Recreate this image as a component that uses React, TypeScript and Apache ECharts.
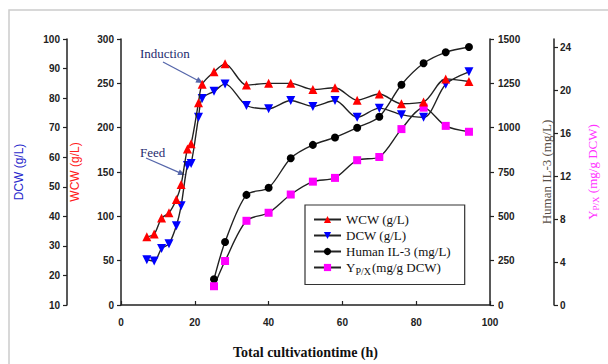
import React, { useEffect, useRef } from "react";
import * as echarts from "echarts";

// sampling times (h) for biomass
const timeBio = [7, 9, 11, 13, 15, 16.3, 18, 19, 21, 22, 25.2, 28.2, 34, 40, 46, 52, 58, 64, 70, 76, 82, 88, 94.3];
// WCW (g/L)
const wcw = [77, 80, 98, 104, 119, 136, 176, 182, 228, 249, 263, 272, 248, 250, 250, 243, 245, 231, 238, 227, 229, 255, 252];
// DCW (g/L)
const dcw = [25.3, 24.9, 29.1, 30.7, 36.8, 43.6, 57.2, 57.9, 73.5, 79.9, 82.3, 84.8, 77.5, 76.4, 79.2, 77.2, 79.2, 73.5, 76.6, 74.4, 73.5, 84.7, 88.9];
// sampling times after induction
const timeInd = [25.2, 28.2, 34, 40, 46, 52, 58, 64, 70, 76, 82, 88, 94.3];
// Human IL-3 (mg/L)
const il3 = [145, 355, 621, 661, 828, 903, 945, 1000, 1062, 1242, 1363, 1425, 1455];
// Y P/X (mg/g DCW)
const ypx = [1.75, 4.1, 7.85, 8.6, 10.3, 11.5, 11.85, 13.5, 13.8, 16.4, 18.4, 16.7, 16.15];

const seriesNames = ["WCW (g/L)", "DCW (g/L)", "Human IL-3 (mg/L)", "YPX"];

const pair = (xs: number[], ys: number[]) => xs.map((x, i) => [x, ys[i]]);

const labelStyle = {
  color: "#222",
  fontSize: 10,
  fontWeight: "bold" as const,
  fontFamily: "Liberation Sans",
  formatter: (v: number) => String(v),
};
const axisLine = { show: true, lineStyle: { color: "#222", width: 1.5 } };
const axisTick = { show: true, length: 4, lineStyle: { color: "#222", width: 1.2 } };

export default function App() {
  const ref = useRef<HTMLDivElement>(null);
  useEffect(() => {
    document.body.style.margin = "0";
    if (!ref.current) return;
    const chart = echarts.init(ref.current, null, { renderer: "svg" });
    const lineStyle = { color: "#222", width: 1.4 };
    chart.setOption({
      animation: false,
      grid: { left: 121, right: 114, top: 39, bottom: 52 },
      legend: {
        orient: "vertical",
        left: 305,
        top: 205,
        data: seriesNames,
        borderColor: "#333",
        borderWidth: 1.2,
        padding: [8, 14, 8, 8],
        itemGap: 3,
        itemWidth: 27,
        itemHeight: 9,
        textStyle: {
          fontFamily: "Liberation Serif",
          fontSize: 13,
          color: "#111",
          rich: {
            n: { fontFamily: "Liberation Serif", fontSize: 13, color: "#111" },
            s: { fontFamily: "Liberation Serif", fontSize: 10, color: "#111", padding: [8, 1, 0, 0] },
          },
        },
        formatter: (name: string) =>
          name === "YPX" ? "{n|Y}{s|P/X}{n|(mg/g DCW)}" : name,
      },
      xAxis: {
        type: "value",
        min: 0,
        max: 100,
        interval: 20,
        axisLine,
        axisTick: { show: true, length: 4, inside: true, lineStyle: { color: "#222", width: 1.2 } },
        axisLabel: { ...labelStyle, margin: 12 },
        splitLine: { show: false },
        name: "Total cultivationtime (h)",
        nameLocation: "middle",
        nameGap: 40,
        nameTextStyle: {
          fontFamily: "Liberation Serif",
          fontWeight: "bold",
          fontSize: 14,
          color: "#111",
        },
      },
      yAxis: [
        {
          type: "value",
          position: "left",
          min: 0,
          max: 300,
          interval: 50,
          axisLine,
          axisTick,
          axisLabel: { ...labelStyle, margin: 7 },
          splitLine: { show: false },
          name: "WCW (g/L)",
          nameLocation: "middle",
          nameRotate: 90,
          nameGap: 40,
          nameTextStyle: { color: "#ff2020", fontSize: 12, fontFamily: "Liberation Sans" },
        },
        {
          type: "value",
          position: "left",
          offset: 54,
          min: 10,
          max: 100,
          interval: 10,
          axisLine,
          axisTick,
          axisLabel: { ...labelStyle, margin: 7 },
          splitLine: { show: false },
          name: "DCW (g/L)",
          nameLocation: "middle",
          nameRotate: 90,
          nameGap: 42,
          nameTextStyle: { color: "#2a2acc", fontSize: 12, fontFamily: "Liberation Sans" },
        },
        {
          type: "value",
          position: "right",
          min: 0,
          max: 1500,
          interval: 250,
          axisLine,
          axisTick,
          axisLabel: { ...labelStyle, margin: 8 },
          splitLine: { show: false },
          name: "Human IL-3 (mg/L)",
          nameLocation: "middle",
          nameRotate: 90,
          nameGap: 50,
          nameTextStyle: { color: "#5a5048", fontSize: 13, fontFamily: "Liberation Serif" },
        },
        {
          type: "value",
          position: "right",
          offset: 64,
          min: 0,
          max: 24.8,
          interval: 4,
          axisLine,
          axisTick,
          axisLabel: { ...labelStyle, margin: 6, showMaxLabel: false },
          splitLine: { show: false },
          name: "{n|Y}{s|P/X}{n| (mg/g DCW)}",
          nameLocation: "middle",
          nameRotate: 90,
          nameGap: 30,
          nameTextStyle: {
            color: "#ff33ff",
            rich: {
              n: { color: "#ff33ff", fontSize: 13, fontFamily: "Liberation Serif" },
              s: { color: "#ff33ff", fontSize: 9, fontFamily: "Liberation Serif", padding: [7, 0, 0, 0] },
            },
          },
        },
      ],
      series: [
        {
          name: seriesNames[0],
          type: "line",
          yAxisIndex: 0,
          data: pair(timeBio, wcw),
          smooth: 0.3,
          symbol: "triangle",
          symbolSize: 9,
          lineStyle,
          itemStyle: { color: "#ff0000" },
          z: 4,
        },
        {
          name: seriesNames[1],
          type: "line",
          yAxisIndex: 1,
          data: pair(timeBio, dcw),
          smooth: 0.3,
          symbol: "triangle",
          symbolRotate: 180,
          symbolSize: 9,
          lineStyle,
          itemStyle: { color: "#0000ff" },
          z: 3,
        },
        {
          name: seriesNames[2],
          type: "line",
          yAxisIndex: 2,
          data: pair(timeInd, il3),
          smooth: 0.3,
          symbol: "circle",
          symbolSize: 8,
          lineStyle,
          itemStyle: { color: "#000000" },
          z: 2,
        },
        {
          name: seriesNames[3],
          type: "line",
          yAxisIndex: 3,
          data: pair(timeInd, ypx),
          smooth: 0.3,
          symbol: "rect",
          symbolSize: 8,
          lineStyle,
          itemStyle: { color: "#ff00ff" },
          z: 2,
        },
      ],
      graphic: [
        {
          type: "rect",
          shape: { x: 9, y: 10, width: 700, height: 500 },
          style: { fill: "none", stroke: "#cccccc", lineWidth: 1.5 },
          silent: true,
        },
        {
          type: "text",
          x: 140,
          y: 53,
          style: {
            text: "Induction",
            fontSize: 13,
            fontFamily: "Liberation Serif",
            fill: "#1f2b6e",
            textVerticalAlign: "middle",
          },
        },
        {
          type: "text",
          x: 140,
          y: 152,
          style: {
            text: "Feed",
            fontSize: 13,
            fontFamily: "Liberation Serif",
            fill: "#1f2b6e",
            textVerticalAlign: "middle",
          },
        },
        {
          type: "line",
          shape: { x1: 163, y1: 62, x2: 198, y2: 80.5 },
          style: { stroke: "#5566aa", lineWidth: 1.3 },
        },
        {
          type: "polygon",
          shape: { points: [[203, 83], [195.4, 82.4], [198.2, 77.0]] },
          style: { fill: "#5566aa" },
        },
        {
          type: "line",
          shape: { x1: 146, y1: 158, x2: 180, y2: 172.8 },
          style: { stroke: "#5566aa", lineWidth: 1.3 },
        },
        {
          type: "polygon",
          shape: { points: [[185, 175], [177.4, 174.95], [179.8, 169.45]] },
          style: { fill: "#5566aa" },
        },
      ],
    });
    return () => chart.dispose();
  }, []);
  return <div ref={ref} style={{ width: 608, height: 364 }} />;
}
